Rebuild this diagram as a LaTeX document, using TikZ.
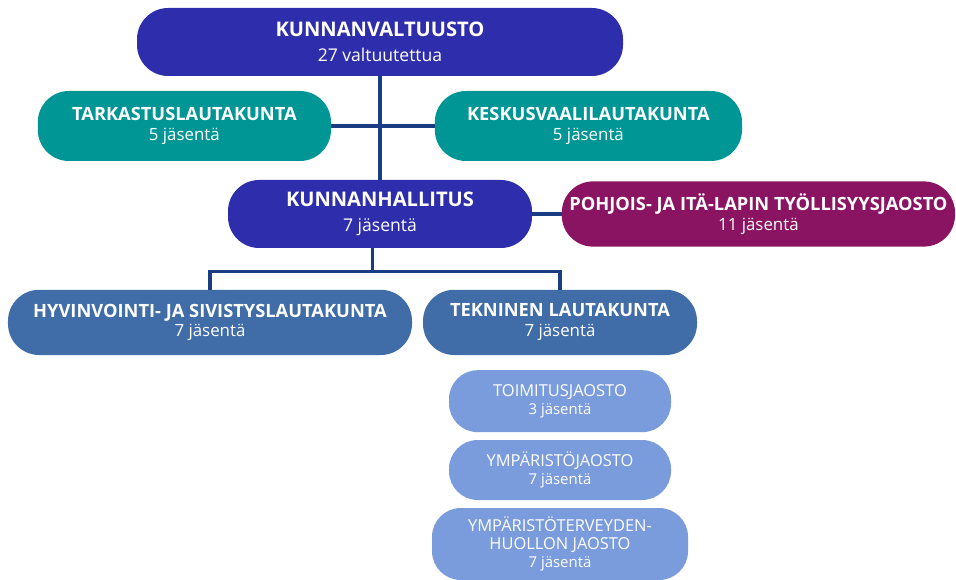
\documentclass[tikz,border=0pt]{standalone}
\usepackage{fontspec}
\setmainfont{Open Sans}
\usetikzlibrary{positioning}

\definecolor{valtuustoblue}{RGB}{46,45,172}
\definecolor{lautateal}{RGB}{0,150,150}
\definecolor{jaostopurple}{RGB}{138,20,98}
\definecolor{lautablue}{RGB}{64,108,168}
\definecolor{jaostoblue}{RGB}{122,156,220}
\definecolor{linkblue}{RGB}{26,60,130}

\newcommand{\toptitle}[1]{{\fontsize{14.3}{17.7}\selectfont\bfseries #1}}
\newcommand{\midtitle}[1]{{\fontsize{13}{14.2}\selectfont\bfseries #1}}
\newcommand{\subtitle}[1]{{\fontsize{11.7}{12.8}\selectfont #1}}

\begin{document}
\begin{tikzpicture}[
  organ/.style={rectangle, rounded corners=0.78cm, text=white, align=center, inner sep=0pt, minimum height=1.7cm},
  topbox/.style={organ, fill=valtuustoblue, font=\fontsize{12.5}{17.7}\selectfont},
  midbox/.style={organ, font=\fontsize{12}{14.2}\selectfont},
  subbox/.style={organ, fill=jaostoblue, rounded corners=0.72cm, font=\fontsize{10.6}{12.8}\selectfont},
  link/.style={draw=linkblue, line width=2.2pt},
  node distance=2cm
]
\useasboundingbox (0,0) rectangle (23.9,-14.5);

\node[topbox, minimum width=12.15cm] (kv) at (9.5,-1.05) {\toptitle{KUNNANVALTUUSTO}\\27 valtuutettua};
\node[midbox, fill=lautateal, minimum width=7.33cm, minimum height=1.75cm] (tark) at (4.61,-3.15) {\midtitle{TARKASTUSLAUTAKUNTA}\\5 jäsentä};
\node[midbox, fill=lautateal, minimum width=7.68cm, minimum height=1.75cm, right of=tark, node distance=10.1cm] (kesk) {\midtitle{KESKUSVAALILAUTAKUNTA}\\5 jäsentä};

\node[topbox, minimum width=7.6cm] (kh) at (9.5,-5.35) {\toptitle{KUNNANHALLITUS}\\7 jäsentä};
\node[midbox, fill=jaostopurple, minimum width=9.83cm, minimum height=1.63cm, right of=kh, node distance=9.46cm] (pohj) {\midtitle{POHJOIS- JA ITÄ-LAPIN TYÖLLISYYSJAOSTO}\\11 jäsentä};

\node[midbox, fill=lautablue, minimum width=10.1cm, minimum height=1.63cm] (hyv) at (5.25,-8.06) {\midtitle{HYVINVOINTI- JA SIVISTYSLAUTAKUNTA}\\7 jäsentä};
\node[midbox, fill=lautablue, minimum width=6.85cm, minimum height=1.63cm, right of=hyv, node distance=8.75cm] (tek) {\midtitle{TEKNINEN LAUTAKUNTA}\\7 jäsentä};

% Jaostot
\node[subbox, minimum width=5.55cm, minimum height=1.55cm, below of=tek, node distance=1.97cm] (toim) {\subtitle{TOIMITUSJAOSTO}\\3 jäsentä};
\node[subbox, minimum width=5.55cm, minimum height=1.5cm, below of=toim, node distance=1.72cm] (ymp) {\subtitle{YMPÄRISTÖJAOSTO}\\7 jäsentä};
\node[subbox, minimum width=6.4cm, minimum height=1.8cm, below of=ymp, node distance=1.85cm] (ympt) {\subtitle{YMPÄRISTÖTERVEYDEN-}\\\subtitle{HUOLLON JAOSTO}\\7 jäsentä};

% Connectors
\draw[link] (kv.south) -- (kh.north);
\draw[link] (tark.east) -- (kesk.west);
\draw[link] (kh.east) -- (pohj.west);
\draw[link] ([xshift=-0.18cm]kh.south) -- ++(0,-0.58) -| (hyv.north);
\draw[link] ([xshift=-0.18cm]kh.south) ++(0,-0.58) -| (tek.north);
\end{tikzpicture}
\end{document}
